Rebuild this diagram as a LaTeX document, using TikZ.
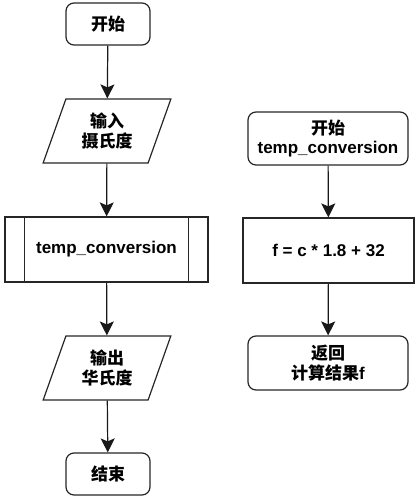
\documentclass[tikz,border=0pt]{standalone}
\usepackage{fontspec}
\setmainfont{Liberation Sans}
\newfontfamily\cjk{Noto Sans CJK SC}
\usetikzlibrary{shapes.geometric,arrows.meta}
\begin{document}
\begin{tikzpicture}[x=1pt,y=-1pt,
  base/.style={draw=black!85,line width=1.2pt,align=center,font=\fontsize{17}{19.5}\selectfont\bfseries,inner sep=0pt},
  term/.style={base,rounded corners=8pt,minimum width=84pt,minimum height=42pt},
  io/.style={base,trapezium,trapezium stretches=true,trapezium left angle=68.5,trapezium right angle=111.5,minimum width=128pt,minimum height=64pt},
  proc/.style={base,minimum width=171pt,minimum height=65pt},
  pre/.style={base,minimum width=203pt,minimum height=65pt},
  arr/.style={line width=1.2pt,draw=black!90,-{Stealth[length=14pt,width=14pt,inset=3pt]}}
]
\useasboundingbox (0,0) rectangle (420,501);
\node[term] (start) at (108,24) {\cjk\bfseries 开始};
\node[io] (in) at (107,131) {\cjk\bfseries 输入\\ \cjk\bfseries 摄氏度};
\node[pre] (call) at (106.5,249.5) {temp\_conversion};
\draw[base] ([xshift=20pt]call.north west) -- ([xshift=20pt]call.south west);
\draw[base] ([xshift=-20pt]call.north east) -- ([xshift=-20pt]call.south east);
\node[io] (out) at (107,368) {\cjk\bfseries 输出\\ \cjk\bfseries 华氏度};
\node[term] (end) at (108,474) {\cjk\bfseries 结束};
\draw[arr] (start) -- (in);
\draw[arr] (in) -- (call);
\draw[arr] (call) -- (out);
\draw[arr] (out) -- (end);

\node[term,minimum width=160pt,minimum height=53pt] (fstart) at (328,138.5) {{\cjk\bfseries 开始}\\temp\_conversion};
\node[proc] (calc) at (328.5,250.5) {f = c * 1.8 + 32};
\node[term,minimum width=160pt,minimum height=54pt] (ret) at (328,363) {{\cjk\bfseries 返回}\\{\cjk\bfseries 计算结果}f};
\draw[arr] (fstart) -- (calc);
\draw[arr] (calc) -- (ret);
\end{tikzpicture}
\end{document}
